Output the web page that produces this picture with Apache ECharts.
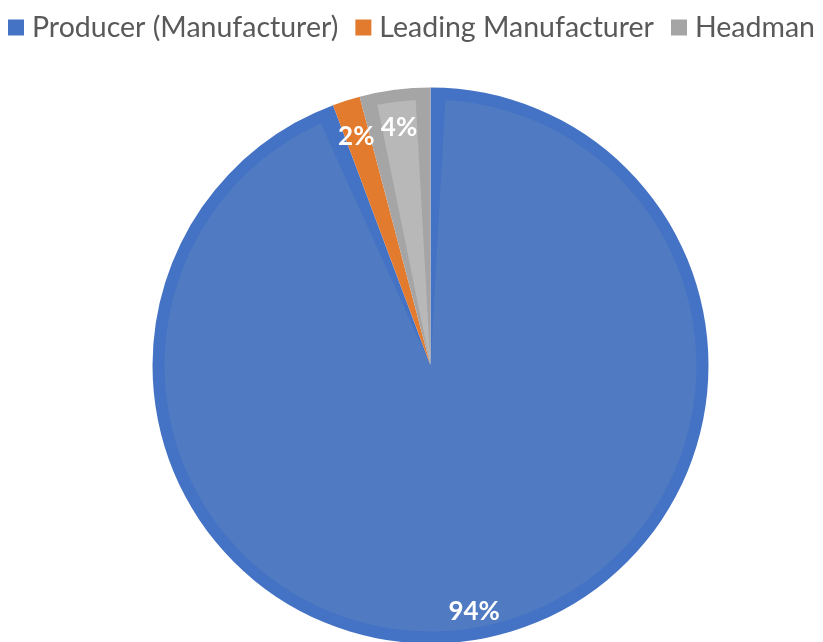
<!DOCTYPE html>
<html>
<head>
<meta charset="utf-8">
<script src="https://cdn.jsdelivr.net/npm/echarts@6/dist/echarts.min.js"></script>
<style>
html,body{margin:0;padding:0;background:#fff;}
#chart{width:823px;height:642px;}
</style>
</head>
<body>
<div id="chart"></div>
<script>
const categories = ['Producer (Manufacturer)', 'Leading Manufacturer', 'Headman'];
const shares = [94.3, 1.6, 4.1];
const darkColors = ['#4472C4', '#E37B2F', '#A5A5A5'];
const lightColors = ['#507AC1', '#E67F31', '#B8B8B8'];

const chart = echarts.init(document.getElementById('chart'));
const center = [430.5, 365.5];

function makeData(colors) {
  return categories.map((name, i) => ({
    name: name,
    value: shares[i],
    itemStyle: { color: colors[i] }
  }));
}

chart.setOption({
  animation: false,
  legend: {
    top: 8,
    left: 'center',
    padding: [5, 0, 5, 6],
    itemWidth: 16,
    itemHeight: 16,
    itemGap: 17,
    icon: 'rect',
    data: categories.map((c, i) => ({ name: c, itemStyle: { color: darkColors[i] } })),
    textStyle: {
      fontFamily: 'Lato',
      fontSize: 28.5,
      color: '#595959',
      padding: [0, 0, 0, 3]
    }
  },
  series: [
    {
      type: 'pie',
      silent: true,
      center: center,
      radius: [0, 278],
      startAngle: 90,
      clockwise: true,
      label: { show: false },
      labelLine: { show: false },
      data: makeData(darkColors)
    },
    {
      type: 'pie',
      silent: true,
      center: center,
      radius: [0, 266],
      startAngle: 90,
      clockwise: true,
      padAngle: 6.4,
      label: { show: false },
      labelLine: { show: false },
      data: makeData(lightColors)
    },
    {
      type: 'pie',
      silent: true,
      center: center,
      radius: [212, 272],
      startAngle: 90,
      clockwise: true,
      itemStyle: { color: 'transparent' },
      labelLine: { show: false },
      label: {
        show: true,
        position: 'inside',
        color: '#ffffff',
        fontFamily: 'Lato',
        fontWeight: 'bold',
        fontSize: 26,
        offset: [0, 5],
        formatter: p => Math.round(p.percent) + '%'
      },
      data: makeData(['transparent', 'transparent', 'transparent'])
    }
  ]
});
</script>
</body>
</html>
